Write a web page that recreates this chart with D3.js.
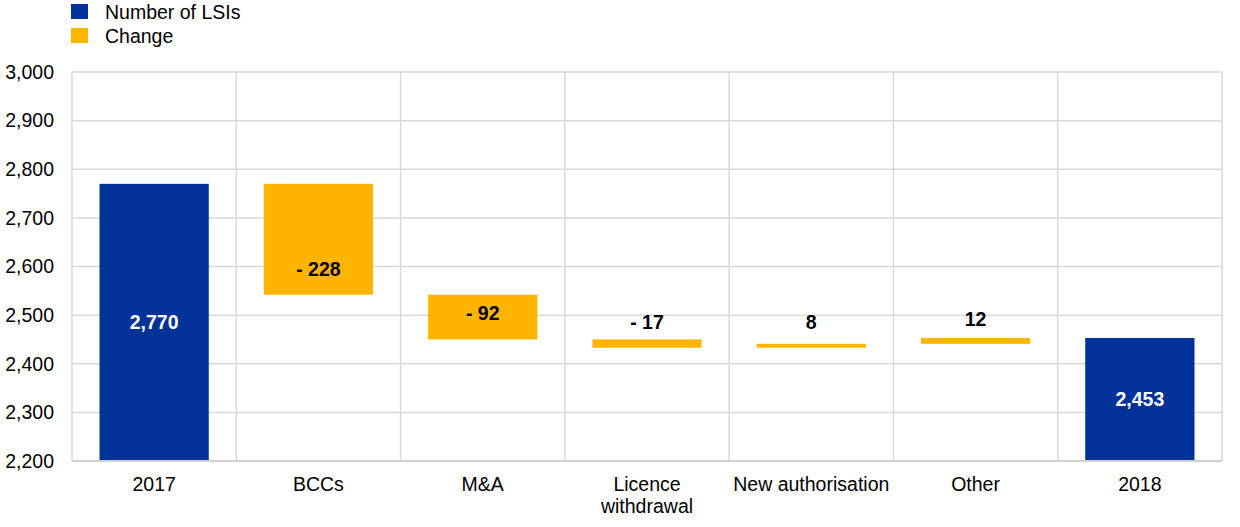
<!DOCTYPE html>
<html><head><meta charset="utf-8">
<script src="https://cdn.jsdelivr.net/npm/d3@7"></script>
<style>body{margin:0;background:#fff;font-family:"Liberation Sans",Arial,sans-serif;}</style>
</head><body><svg id="c" width="1240" height="527"></svg>
<script>
const categories = ["2017","BCCs","M&A","Licence\nwithdrawal","New authorisation","Other","2018"];
const kinds = ["total","change","change","change","change","change","total"];
const values = [2770, -228, -92, -17, 8, 12, 2453];
const labels = ["2,770","- 228","- 92","- 17","8","12","2,453"];
const labelAt = [null, 2595, 2505, 2486, 2486, 2492, null];
const yTicks = [2200,2300,2400,2500,2600,2700,2800,2900,3000];
const legendItems = ["Number of LSIs","Change"];

const colors = {total:"#003299", change:"#FFB400"};
const svg = d3.select("#c");
const m = {l:72, r:1222, t:72, b:461};
const x = d3.scaleBand().domain(categories).range([m.l, m.r]).padding(0);
const y = d3.scaleLinear().domain([2200,3000]).range([m.b, m.t]);

let run = 0;
const segs = categories.map((c,i)=>{
  let lo, hi;
  if (kinds[i]==="total"){ lo = 2200; hi = values[i]; run = values[i]; }
  else { const s = run, e = run + values[i]; lo = Math.min(s,e); hi = Math.max(s,e); run = e; }
  return {c, lo, hi, kind:kinds[i], label:labels[i], la:labelAt[i]};
});

const g = svg.append("g");
g.selectAll("line.h").data(yTicks).join("line")
  .attr("x1", m.l).attr("x2", m.r).attr("y1", d=>y(d)).attr("y2", d=>y(d))
  .attr("stroke","#d9d9d9").attr("stroke-width",1.5);
const bounds = categories.map(c=>x(c)).concat([m.r]);
g.selectAll("line.v").data(bounds).join("line")
  .attr("x1", d=>d).attr("x2", d=>d).attr("y1", m.t).attr("y2", m.b)
  .attr("stroke","#d9d9d9").attr("stroke-width",1.5);

const yAxis = d3.axisLeft(y).tickValues(yTicks).tickSize(0).tickPadding(18).tickFormat(d3.format(","));
const ya = svg.append("g").attr("transform",`translate(${m.l},0)`).call(yAxis);
ya.select(".domain").remove();
ya.selectAll("text").attr("font-size","19.5px").attr("fill","#000").attr("font-family","Liberation Sans, Arial, sans-serif");

const bw = x.bandwidth()*0.665;
svg.selectAll("rect.bar").data(segs).join("rect")
  .attr("x", d=>x(d.c)+(x.bandwidth()-bw)/2).attr("width", bw)
  .attr("y", d=>y(d.hi)).attr("height", d=>y(d.lo)-y(d.hi))
  .attr("fill", d=>colors[d.kind]);

svg.append("line").attr("x1",m.l).attr("x2",m.r).attr("y1",m.b).attr("y2",m.b)
  .attr("stroke","#d0d0d0").attr("stroke-width",2);

svg.selectAll("text.val").data(segs).join("text")
  .attr("x", d=>x(d.c)+x.bandwidth()/2)
  .attr("y", d=> d.kind==="total" ? (y(d.hi)+y(d.lo))/2 : y(d.la))
  .attr("dy","0.35em").attr("text-anchor","middle")
  .attr("font-size","19.5px").attr("font-weight","bold")
  .attr("fill", d=>d.kind==="total"?"#fff":"#000")
  .text(d=>d.label);

const xl = svg.selectAll("text.cat").data(categories).join("text")
  .attr("x", d=>x(d)+x.bandwidth()/2).attr("y", 491)
  .attr("text-anchor","middle").attr("font-size","19.5px").attr("fill","#000");
xl.each(function(d){
  const lines = d.split("\n");
  d3.select(this).selectAll("tspan").data(lines).join("tspan")
    .attr("x", x(d)+x.bandwidth()/2).attr("dy",(l,i)=>i===0?0:"1.13em").text(l=>l);
});

const lg = svg.append("g");
legendItems.forEach((t,i)=>{
  lg.append("rect").attr("x",71).attr("y",4+i*24).attr("width",17).attr("height",15)
    .attr("fill", i===0?colors.total:colors.change);
  lg.append("text").attr("x",105).attr("y",12+i*24).attr("dy","0.35em")
    .attr("font-size","19.5px").attr("fill","#000").text(t);
});
</script></body></html>
